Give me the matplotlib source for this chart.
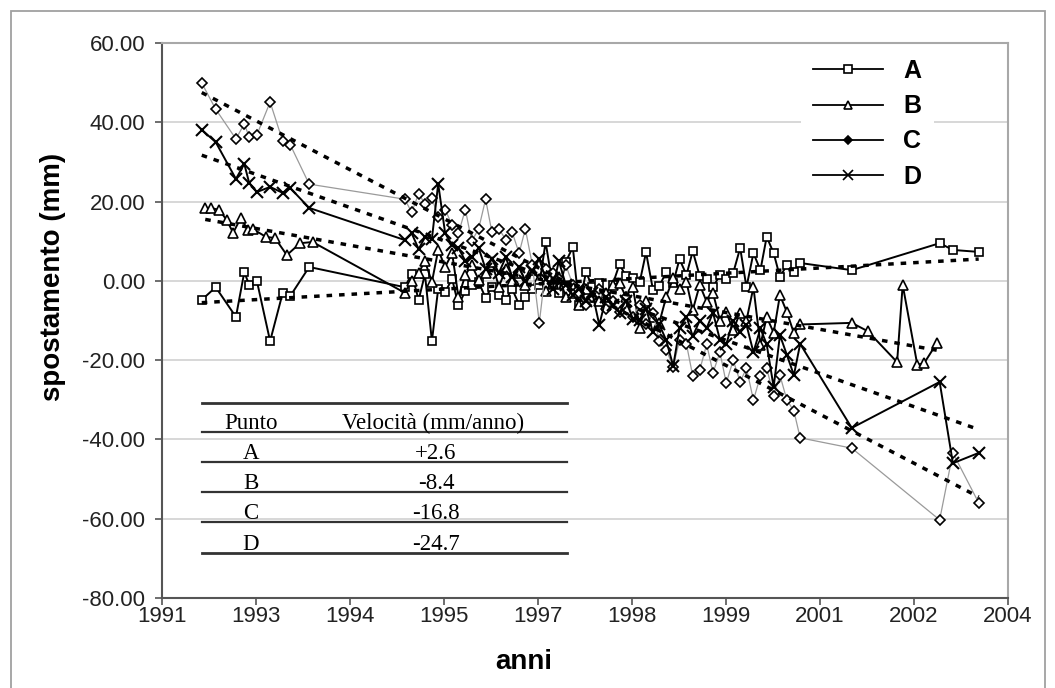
import numpy as np
import matplotlib
matplotlib.use("Agg")
import matplotlib.pyplot as plt
from matplotlib.lines import Line2D
from matplotlib.patches import Rectangle
from matplotlib.ticker import FormatStrFormatter

plt.rcParams['font.family'] = ['Liberation Sans', 'DejaVu Sans']
plt.rcParams['axes.unicode_minus'] = False

# ---------------- data (decimal years, mm) ----------------
dates_early = [1992.44, 1992.64, 1992.93, 1993.05, 1993.12, 1993.23, 1993.42, 1993.60, 1993.71, 1993.98]
dates_dense = [1995.35, 1995.45, 1995.55, 1995.64, 1995.74, 1995.83, 1995.93, 1996.03, 1996.12, 1996.22,
               1996.31, 1996.41, 1996.51, 1996.60, 1996.70, 1996.80, 1996.89, 1996.99, 1997.08, 1997.18,
               1997.28, 1997.37, 1997.47, 1997.56, 1997.66, 1997.76, 1997.85, 1997.95, 1998.04, 1998.14,
               1998.24, 1998.33, 1998.43, 1998.52, 1998.62, 1998.72, 1998.81, 1998.91, 1999.00, 1999.10,
               1999.20, 1999.29, 1999.39, 1999.48, 1999.58, 1999.68, 1999.77, 1999.87, 1999.96, 2000.06,
               2000.16, 2000.25, 2000.35, 2000.45, 2000.54, 2000.64, 2000.73, 2000.83, 2000.93, 2001.02]
dates_late = [2001.76, 2003.02, 2003.21, 2003.58]

dates_b_early = [1992.49, 1992.57, 1992.69, 1992.80, 1992.89, 1993.00, 1993.10, 1993.17, 1993.36,
                 1993.49, 1993.66, 1993.85, 1994.03]
dates_b_late = [2001.76, 2001.99, 2002.41, 2002.49, 2002.70, 2002.80, 2002.98]

A_early = [-4.8, -1.6, -9.1, 2.2, -1.0, 0.0, -15.2, -3.1, -3.8, 3.5]
A_dense = [-1.6, 1.7, -4.8, 1.7, -15.2, -2.0, -2.8, 0.5, -6.2, -2.5,
           -1.0, -0.3, -4.3, -1.5, -3.5, -4.8, -2.0, -6.0, -4.1, -2.0,
           -1.0, 9.8, -1.0, -3.0, 4.8, 8.5, -6.2, 2.2, -1.5, -0.5,
           -6.3, -1.0, 4.2, 1.2, 0.6, -0.3, 7.2, -2.3, -1.3, 2.2,
           -0.5, 5.5, 1.5, 7.5, 1.2, 0.5, -1.6, 1.5, 0.5, 2.0,
           8.3, -1.6, 7.0, 2.7, 11.1, 7.0, 1.0, 4.0, 2.2, 4.5]
A_late = [2.7, 9.5, 7.8, 7.3]

B_early = [18.4, 18.4, 17.9, 15.3, 12.1, 15.9, 12.8, 13.1, 11.1, 10.8, 6.5, 9.5, 9.8]
B_dense = [-3.0, 0.0, 2.0, 5.0, -0.3, 7.8, 3.5, 7.0, -4.1, 1.5,
           4.0, 0.3, 2.0, 4.8, -1.5, 3.0, 0.0, 2.0, -1.0, 2.7,
           0.5, -2.5, -0.5, 1.0, -4.0, -3.0, -6.1, -2.0, -4.0, -5.0,
           -3.0, -1.0, -0.6, -4.0, -1.5, -12.0, -5.0, -9.1, -10.6, -4.0,
           0.7, -2.0, -0.3, -7.4, -1.0, -5.3, -3.0, -10.0, -7.9, -12.4,
           -8.0, -10.0, -1.6, -16.2, -9.1, -13.1, -3.6, -7.9, -13.2, -11.0]
B_late = [-10.6, -12.7, -20.5, -1.0, -21.2, -20.7, -15.7]

C_early = [49.9, 43.3, 35.8, 39.6, 36.3, 36.8, 45.1, 35.3, 34.3, 24.4]
C_dense = [20.6, 17.3, 22.0, 19.4, 21.0, 16.0, 18.0, 14.0, 12.0, 18.0,
           10.0, 13.1, 20.6, 12.3, 13.1, 10.4, 12.3, 7.0, 13.1, 4.0,
           -10.6, 3.0, 2.0, 0.5, 4.0, -1.0, -3.0, -6.0, -4.0, -2.0,
           -7.0, -5.0, -7.9, -4.0, -9.0, -6.0, -11.0, -8.0, -15.2, -17.4,
           -21.7, -15.0, -16.0, -24.0, -22.5, -16.0, -23.2, -18.0, -25.8, -20.0,
           -25.5, -22.0, -30.1, -24.0, -22.0, -29.0, -23.8, -30.1, -32.8, -39.6]
C_late = [-42.2, -60.3, -43.4, -56.0]

D_early = [38.1, 35.0, 25.7, 29.5, 24.7, 22.4, 23.7, 22.2, 23.4, 18.4]
D_dense = [10.3, 12.0, 8.0, 11.0, 10.6, 24.5, 12.0, 9.0, 8.3, 5.0,
           6.0, 8.3, 3.0, 5.5, 2.0, 6.0, 1.0, 3.5, 0.0, 2.5,
           5.5, 0.5, -2.0, 5.0, -1.0, -3.5, -2.0, -5.0, -3.0, -11.1,
           -4.0, -6.0, -8.0, -5.0, -9.5, -9.8, -7.0, -13.0, -11.0, -15.0,
           -21.5, -12.0, -9.0, -14.0, -10.0, -11.9, -8.0, -14.9, -16.0, -10.0,
           -13.0, -11.1, -18.0, -12.0, -16.0, -26.8, -13.7, -18.7, -23.8, -15.9]
D_late = [-37.1, -25.5, -46.0, -43.4]

# linear trend lines (end values)
trend_x_A = [1992.44, 2003.58]
trend_A = [-5.5, 5.5]
trend_x_B = [1992.49, 2002.98]
trend_B = [15.5, -17.5]
trend_x_C = [1992.44, 2003.58]
trend_C = [47.5, -54.5]
trend_x_D = [1992.44, 2003.58]
trend_D = [31.7, -37.5]

series_names = ["A", "B", "C", "D"]
x_tick_labels = ["1991", "1993", "1994", "1995", "1997", "1998", "1999", "2001", "2002", "2004"]
x_range = (1991.87, 2004.0)
y_ticks = [60, 40, 20, 0, -20, -40, -60, -80]

table_header = ["Punto", "Velocità (mm/anno)"]
table_points = ["A", "B", "C", "D"]
table_speeds = ["+2.6", "-8.4", "-16.8", "-24.7"]

# ---------------- figure ----------------
W, H = 1055, 688
fig = plt.figure(figsize=(W / 100, H / 100), dpi=100)
fig.patch.set_facecolor("white")


def fx(px):
    return px / W


def fy(py):
    return 1 - py / H


ax = fig.add_axes([fx(162), fy(598), fx(1008) - fx(162), fy(43) - fy(598)])

xa = dates_early + dates_dense + dates_late
xb = dates_b_early + dates_dense + dates_b_late
A = A_early + A_dense + A_late
B = B_early + B_dense + B_late
C = C_early + C_dense + C_late
D = D_early + D_dense + D_late

mk = dict(markerfacecolor="white", markeredgecolor="black")
ax.plot(xa, A, color="black", lw=1.4, marker="s", ms=6, mew=1.2, zorder=3, **mk)
ax.plot(xb, B, color="black", lw=1.4, marker="^", ms=7, mew=1.2, zorder=3, **mk)
ax.plot(xa, C, color="#9a9a9a", lw=0.9, marker="D", ms=5.5, mew=1.2, zorder=3, **mk)
ax.plot(xa, D, color="black", lw=1.4, marker="x", ms=8, mew=1.5, markeredgecolor="black", zorder=3)

dot = (0, (1.6, 2.0))
for tx, ty in [(trend_x_A, trend_A), (trend_x_B, trend_B), (trend_x_C, trend_C), (trend_x_D, trend_D)]:
    ax.plot(tx, ty, color="black", lw=2.5, linestyle=dot, dash_capstyle="butt", zorder=4)

ax.set_xlim(*x_range)
ax.set_ylim(-80, 60)
ax.set_yticks(y_ticks)
ax.yaxis.set_major_formatter(FormatStrFormatter("%.2f"))
ax.set_xticks(np.linspace(x_range[0], x_range[1], len(x_tick_labels)))
ax.set_xticklabels(x_tick_labels)
ax.grid(axis="y", color="#d4d4d4", lw=1.3)
ax.set_axisbelow(True)

for s in ["left", "bottom"]:
    ax.spines[s].set_color("#555555")
    ax.spines[s].set_linewidth(1.5)
for s in ["top", "right"]:
    ax.spines[s].set_color("#a8a8a8")
    ax.spines[s].set_linewidth(1.5)

ax.tick_params(axis="both", direction="out", length=5, width=1.2, color="#555555",
               labelsize=16, labelcolor="#222222")
ax.tick_params(axis="y", pad=7)
ax.tick_params(axis="x", pad=1)

fig.text(fx(524), fy(662), "anni", fontsize=20, fontweight="bold", ha="center", va="center")
fig.text(fx(53), fy(277), "spostamento (mm)", fontsize=20, fontweight="bold",
         ha="center", va="center", rotation=90)

# legend
markers = {"A": ("s", 5.5), "B": ("^", 6), "C": ("D", 4.5), "D": ("x", 6.5)}
handles = []
for n in series_names:
    m, s = markers[n]
    handles.append(Line2D([], [], color="black", lw=1.3, marker=m, ms=s, mew=1.2,
                          markerfacecolor="white" if n != "C" else "black", markeredgecolor="black"))
leg = ax.legend(handles, series_names, loc="upper left",
                bbox_to_anchor=(fx(788), fy(34)), bbox_transform=fig.transFigure,
                prop={"size": 18, "weight": "bold"}, handlelength=2.8, handletextpad=0.8,
                labelspacing=0.45, borderpad=0.5, frameon=True, fancybox=False)
leg.get_frame().set_facecolor("white")
leg.get_frame().set_edgecolor("none")
leg.get_frame().set_alpha(1)

# table inside the plot
serif = ["Liberation Serif", "DejaVu Serif"]
rule_y = [403, 432, 462, 492, 522, 553]
for i, py in enumerate(rule_y):
    lw = 2.0 if i in (0, len(rule_y) - 1) else 1.6
    fig.add_artist(Line2D([fx(202), fx(567)], [fy(py), fy(py)], color="#333333", lw=lw))
fig.text(fx(251), fy(429), table_header[0], family=serif, fontsize=16.5, ha="center", va="baseline")
fig.text(fx(433), fy(429), table_header[1], family=serif, fontsize=16.5, ha="center", va="baseline")
for i, (p, v) in enumerate(zip(table_points, table_speeds)):
    base = rule_y[i + 2] - 3
    fig.text(fx(251), fy(base), p, family=serif, fontsize=16.5, ha="center", va="baseline")
    fig.text(fx(436), fy(base), v, family=serif, fontsize=16.5, ha="center", va="baseline")

# outer figure border
fig.add_artist(Rectangle((fx(11), fy(700)), fx(1045) - fx(11), fy(11) - fy(700),
                         transform=fig.transFigure, fill=False, edgecolor="#a0a0a0", lw=1.3))

fig.savefig("out.png", dpi=100)
